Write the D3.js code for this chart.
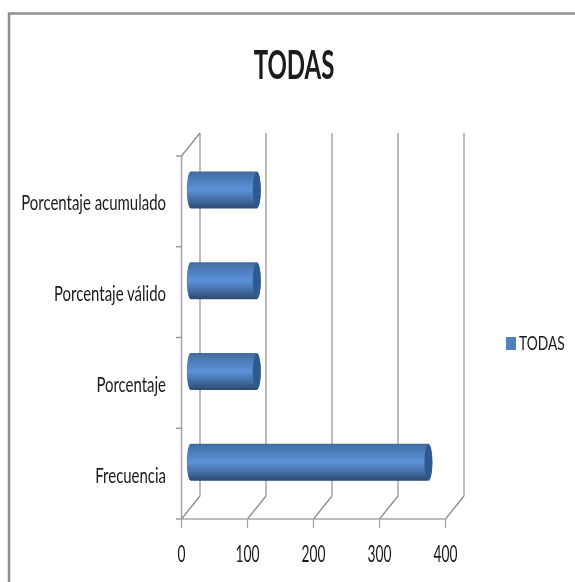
<!DOCTYPE html>
<html><head><meta charset="utf-8">
<script src="https://cdn.jsdelivr.net/npm/d3@7"></script>
<style>html,body{margin:0;padding:0;background:#fff;overflow:hidden}svg{display:block}text{font-family:Lato,"Open Sans",sans-serif;fill:#1a1a1a}</style>
</head><body><svg id="c" width="575" height="582"></svg>
<script>
const categories = ["Frecuencia","Porcentaje","Porcentaje válido","Porcentaje acumulado"];
const seriesValues = [360,100,100,100];
const seriesName = "TODAS";
const ticks = [0,100,200,300,400];
const svg = d3.select("#c");
const x = d3.scaleLinear().domain([0,400]).range([181.5,445.5]);
const y = d3.scaleBand().domain(categories).range([519,156]);
const dx = 18.5, dy = -23;
const grid = "#a6a6a6", dark = "#8c8c8c";
const defs = svg.append("defs");
const g1 = defs.append("linearGradient").attr("id","cyl").attr("x1",0).attr("x2",0).attr("y1",0).attr("y2",1);
[[0,"#44699a"],[.1,"#4674ad"],[.5,"#5b92d8"],[.8,"#41699f"],[1,"#2c4a70"]].forEach(s=>g1.append("stop").attr("offset",s[0]).attr("stop-color",s[1]));
defs.append("filter").attr("id","soft").append("feGaussianBlur").attr("stdDeviation",.4);
svg.append("path").attr("d","M9 582V13.5H575").attr("fill","none").attr("stroke","#8f8f8f").attr("stroke-width",2.5);
const root = svg.append("g").attr("filter","url(#soft)");
function label(txt, ax, ay, size, sx, anchor, weight){
  root.append("text").attr("transform",`translate(${ax},${ay}) scale(${sx},1)`)
    .attr("text-anchor",anchor).attr("font-size",size).attr("font-weight",weight||400).text(txt);
}
ticks.forEach(t=>{
  root.append("line").attr("x1",x(t)+dx).attr("x2",x(t)+dx).attr("y1",156+dy).attr("y2",519+dy).attr("stroke",grid).attr("stroke-width",1.5);
  root.append("line").attr("x1",x(t)).attr("x2",x(t)+dx).attr("y1",519).attr("y2",519+dy).attr("stroke",dark).attr("stroke-width",1.3);
  root.append("line").attr("x1",x(t)).attr("x2",x(t)).attr("y1",519).attr("y2",528).attr("stroke",grid).attr("stroke-width",1.3);
  label(t, x(t), 562, 23, .6, "middle");
});
root.append("line").attr("x1",x(0)).attr("x2",x(0)+dx).attr("y1",156).attr("y2",156+dy).attr("stroke",dark).attr("stroke-width",1.3);
root.append("line").attr("x1",x(0)).attr("x2",x(0)).attr("y1",156).attr("y2",519).attr("stroke",grid).attr("stroke-width",1.5);
root.append("line").attr("x1",x(0)).attr("x2",x(400)).attr("y1",519).attr("y2",519).attr("stroke",grid).attr("stroke-width",1.5);
[...categories.map(c=>y(c)+y.bandwidth()),156].forEach(v=>root.append("line").attr("x1",176).attr("x2",x(0)).attr("y1",v).attr("y2",v).attr("stroke",dark).attr("stroke-width",1.3));
const h = 37, rx = 4, off = 9.3;
categories.forEach((c,i)=>{
  const cy = y(c)+y.bandwidth()/2 - 11.5, x0 = x(0)+off, x1 = x(seriesValues[i])+off;
  root.append("path").attr("d",`M${x0} ${cy-h/2}H${x1}A${rx} ${h/2} 0 0 1 ${x1} ${cy+h/2}H${x0}A${rx} ${h/2} 0 0 1 ${x0} ${cy-h/2}Z`).attr("fill","url(#cyl)");
  root.append("ellipse").attr("cx",x1).attr("cy",cy).attr("rx",rx).attr("ry",h/2-1).attr("fill","#2f5a8f");
  label(c, 166, y(c)+y.bandwidth()/2+9, 22, .68, "end");
});
label(seriesName, 294, 79, 40, .6, "middle", 700);
root.append("rect").attr("x",506).attr("y",337).attr("width",10).attr("height",13).attr("fill","#4f81bd");
label(seriesName, 519, 349.5, 20, .69, "start");
</script></body></html>
